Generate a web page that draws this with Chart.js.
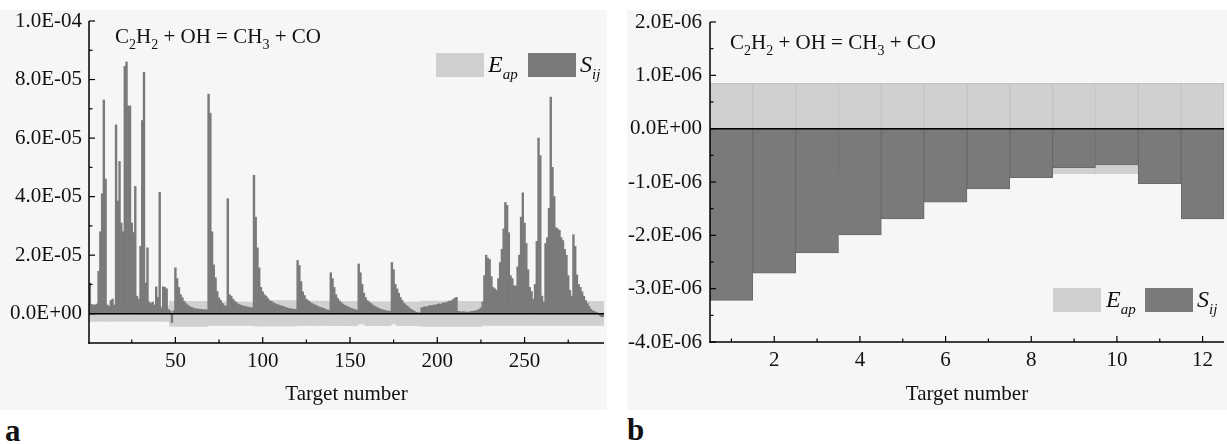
<!DOCTYPE html>
<html>
<head>
<meta charset="utf-8">
<script src="https://cdn.jsdelivr.net/npm/chart.js@4.4.1/dist/chart.umd.min.js"></script>
<style>
  body { margin: 0; background: #fff; }
  #wrap { position: relative; width: 1227px; height: 444px; overflow: hidden; font-family: "Liberation Serif", "Times New Roman", serif; color: #111; }
  .bg { position: absolute; background: #f6f6f6; }
  canvas { position: absolute; top: 0; }
  .txt { position: absolute; white-space: nowrap; line-height: 1; }
  .eq { font-size: 21px; }
  .eq sub { font-size: 14px; vertical-align: baseline; position: relative; top: 6px; }
  .key { position: absolute; width: 48px; height: 24px; }
  .lg { font-size: 24px; font-style: italic; }
  .lg sub { font-size: 15px; vertical-align: baseline; position: relative; top: 7px; }
  .panel { font-size: 31px; font-weight: bold; }
</style>
</head>
<body>
<div id="wrap">
  <div class="bg" style="left:0;top:10px;width:607px;height:400px"></div>
  <div class="bg" style="left:627px;top:10px;width:600px;height:400px"></div>
  <canvas id="chartA" style="left:0" width="615" height="410"></canvas>
  <canvas id="chartB" style="left:615px" width="612" height="410"></canvas>

  <div class="txt eq" style="left:115px;top:26px">C<sub>2</sub>H<sub>2</sub> + OH = CH<sub>3</sub> + CO</div>
  <div class="key" style="left:436px;top:53px;background:#d0d0d0"></div>
  <div class="txt lg" style="left:488px;top:52px">E<sub>ap</sub></div>
  <div class="key" style="left:528px;top:53px;background:#7a7a7a"></div>
  <div class="txt lg" style="left:580px;top:52px">S<sub>ij</sub></div>

  <div class="txt eq" style="left:730px;top:32px">C<sub>2</sub>H<sub>2</sub> + OH = CH<sub>3</sub> + CO</div>
  <div class="key" style="left:1053px;top:288px;background:#d0d0d0"></div>
  <div class="txt lg" style="left:1106px;top:287px">E<sub>ap</sub></div>
  <div class="key" style="left:1145px;top:288px;background:#7a7a7a"></div>
  <div class="txt lg" style="left:1197px;top:287px">S<sub>ij</sub></div>

  <div class="txt panel" style="left:5px;top:415px">a</div>
  <div class="txt panel" style="left:627px;top:414px">b</div>
</div>
<script>
const UNIT = 1e-6; // the series below are written in units of 1E-06

// panel a: targets 1..295
const sijA = [
  10.5, 3.2, 3.0, 3.0, 3.3, 14.5, 28, 41, 73, 46,
  3.0, 2.5, 4.5, 5.0, 3.0, 64.5, 38.5, 52, 31, 28,
  84.5, 86, 71, 71, 31, 27.7, 43.5, 6, 5, 23,
  66, 82.5, 10.5, 22.5, 4, 3.5, 4, 3, 9.2, 5.5,
  41.5, 2, 9.2, 9, 8.5, 1.5, 1, -3, 1, 15.7,
  12, 9, 6.5, 5.5, 4.3, 3.5, 3, 2.5, 2.2, 2,
  1.8, 1.7, 1.6, 1.5, 1.5, 1.4, 1.4, 1.3, 75, 68.5,
  28, 16.7, 12.3, 7.6, 5.4, 4.5, 3.5, 2.8, 2.5, 39.3,
  6.5, 6, 5, 4.3, 3.8, 3.3, 3, 2.8, 2.6, 2.5,
  2.3, 2.2, 2.1, 2, 47.3, 33, 22.5, 15.7, 9, 7.5,
  6.5, 6, 5.2, 4.5, 4.2, 3.8, 3.5, 3.2, 3, 2.8,
  2.6, 2.5, 2.2, 2, 1.8, 1.7, 1.6, 1.5, 1.5, 18.2,
  16.5, 11, 7.5, 6.2, 5, 4.5, 4, 3.6, 3.3, 3,
  2.7, 2.4, 2.2, 2, 1.8, 1.5, 1.3, 1.2, 14, 12,
  9, 6.5, 5.2, 4.4, 3.8, 3.3, 2.9, 2.6, 2.3, 2,
  1.8, 1.6, 1.4, 1.2, 17, 14, 10, 7, 5.5, 4.5,
  4, 3.5, 3, 2.6, 2.3, 2, 1.7, 1.5, 1.3, 1.1,
  1, 0.9, 0.8, 17.5, 15, 10, 8.5, 7, 5.5, 4.5,
  3.5, 3, 2.5, 2, 1.5, 1.2, 0.8, 0.5, 0.3, 0.3,
  2, 2.2, 2.4, 2.3, 2.6, 2.8, 2.7, 3, 2.9, 3.2,
  3.4, 3.2, 3.6, 3.8, 3.6, 4.1, 4.3, 4.4, 4.8, 5.3,
  5.6, 0.8, 0.7, 0.6, 0.7, 0.6, 0.5, 0.6, 0.7, 0.8,
  0.9, 1, 1.2, 1.5, 2, 4, 13, 20, 19, 18.5,
  12.7, 9, 8.5, 8, 12, 17.5, 22, 29, 38, 37,
  27.7, 13, 12, 9.5, 9.5, 16, 20, 33, 41.3, 31,
  24, 15, 9, 7.6, 5, 10, 24.7, 60, 54, 6,
  4, 24, 26, 36, 74, 50, 40, 29.4, 29, 28.5,
  26, 25, 22, 20, 13, 8, 6, 27, 23, 13.3,
  10, 9, 7.5, 6, 4.5, 3.5, 2.5, 1.5, 1, 0.8,
  0.5, 0.2, -0.5, -1, -1
];
const eapHighA = [
  2.7, 2.7, 2.7, 2.7, 2.7, 2.7, 2.7, 2.7, 2.7, 2.7,
  2.7, 2.7, 2.7, 2.7, 2.7, 2.7, 2.7, 2.7, 2.7, 2.7,
  2.7, 2.7, 2.7, 2.7, 2.7, 2.7, 2.7, 2.7, 2.7, 2.7,
  2.7, 2.7, 2.7, 2.7, 2.7, 2.7, 2.7, 2.7, 2.7, 2.7,
  2.7, 2.7, 2.7, 2.7, 2.7, 2.7, 4.2, 4.2, 4.2, 4.2,
  4.2, 4.2, 4.2, 4.2, 4.2, 4.2, 4.2, 4.2, 4.2, 4.2,
  4.2, 4.2, 4.2, 4.2, 4.2, 4.2, 4.2, 4.2, 4.0, 4.0,
  4.0, 4.0, 4.0, 4.0, 4.0, 4.0, 4.0, 4.0, 4.0, 4.0,
  4.0, 4.0, 4.0, 4.0, 4.0, 4.0, 4.0, 4.0, 4.0, 4.0,
  4.0, 4.0, 4.0, 4.0, 4.5, 4.5, 4.5, 4.5, 4.5, 4.5,
  4.5, 4.5, 4.5, 4.5, 4.5, 4.5, 4.5, 4.5, 4.5, 4.5,
  4.5, 4.5, 4.5, 4.5, 4.5, 4.5, 4.5, 4.5, 4.5, 4.3,
  4.3, 4.3, 4.3, 4.3, 4.3, 4.3, 4.3, 4.3, 4.3, 4.3,
  4.3, 4.3, 4.3, 4.3, 4.3, 4.3, 4.3, 4.3, 4.2, 4.2,
  4.2, 4.2, 4.2, 4.2, 4.2, 4.2, 4.2, 4.2, 4.2, 4.2,
  4.2, 4.2, 4.2, 4.2, 4.1, 4.1, 4.1, 4.1, 4.1, 4.1,
  4.1, 4.1, 4.1, 4.1, 4.1, 4.1, 4.1, 4.1, 4.1, 4.1,
  4.1, 4.1, 4.1, 4.0, 4.0, 4.0, 4.0, 4.0, 4.0, 4.0,
  4.0, 4.0, 4.0, 4.0, 4.0, 4.0, 4.0, 4.0, 4.0, 4.0,
  4.3, 4.3, 4.3, 4.3, 4.3, 4.3, 4.3, 4.3, 4.3, 4.3,
  4.3, 4.3, 4.3, 4.3, 4.3, 4.3, 4.3, 4.3, 4.3, 4.3,
  4.3, 4.2, 4.2, 4.2, 4.2, 4.2, 4.2, 4.2, 4.2, 4.2,
  4.2, 4.2, 4.2, 4.2, 4.2, 4.2, 4.2, 4.2, 4.2, 4.2,
  4.2, 4.2, 4.2, 4.2, 4.2, 4.2, 4.2, 4.2, 4.2, 4.2,
  4.2, 4.2, 4.2, 4.2, 4.2, 4.2, 4.2, 4.2, 4.2, 4.2,
  4.2, 4.2, 4.2, 4.2, 4.2, 4.2, 4.2, 4.2, 4.2, 4.2,
  4.2, 4.2, 4.2, 4.2, 4.2, 4.2, 4.2, 4.2, 4.2, 4.2,
  4.2, 4.2, 4.2, 4.2, 4.2, 4.2, 4.2, 4.2, 4.2, 4.2,
  4.2, 4.2, 4.2, 4.2, 4.2, 4.2, 4.2, 4.2, 4.2, 4.2,
  4.2, 4.2, 4.2, 4.2, 4.2
];
const eapLowA = [
  -2.6, -2.6, -2.6, -2.6, -2.6, -2.6, -2.6, -2.6, -2.6, -2.6,
  -2.6, -2.6, -2.6, -2.6, -2.6, -2.6, -2.6, -2.6, -2.6, -2.6,
  -2.6, -2.6, -2.6, -2.6, -2.6, -2.6, -2.6, -2.6, -2.6, -2.6,
  -2.6, -2.6, -2.6, -2.6, -2.6, -2.6, -2.6, -2.6, -2.6, -2.6,
  -2.6, -2.6, -2.6, -2.6, -2.6, -2.6, -4.3, -4.3, -4.3, -4.3,
  -4.3, -4.3, -4.3, -4.3, -4.3, -4.3, -4.3, -4.3, -4.3, -4.3,
  -4.3, -4.3, -4.3, -4.3, -4.3, -4.3, -4.3, -4.3, -4.0, -4.0,
  -4.0, -4.0, -4.0, -4.0, -4.0, -4.0, -4.0, -4.0, -4.0, -4.0,
  -4.0, -4.0, -4.0, -4.0, -4.0, -4.0, -4.0, -4.0, -4.0, -4.0,
  -4.0, -4.0, -4.0, -4.0, -4.2, -4.2, -4.2, -4.2, -4.2, -4.2,
  -4.2, -4.2, -4.2, -4.2, -4.2, -4.2, -4.2, -4.2, -4.2, -4.2,
  -4.2, -4.2, -4.2, -4.2, -4.2, -4.2, -4.2, -4.2, -4.2, -4.0,
  -4.0, -4.0, -4.0, -4.0, -4.0, -4.0, -4.0, -4.0, -4.0, -4.0,
  -4.0, -4.0, -4.0, -4.0, -4.0, -4.0, -4.0, -4.0, -4.1, -4.1,
  -4.1, -4.1, -4.1, -4.1, -4.1, -4.1, -4.1, -4.1, -4.1, -4.1,
  -4.1, -4.1, -4.1, -4.1, -3.5, -3.5, -3.5, -3.5, -4.1, -4.1,
  -4.1, -4.1, -4.1, -4.1, -4.1, -4.1, -4.1, -4.1, -4.1, -4.1,
  -4.1, -4.1, -4.1, -3.5, -3.5, -3.5, -4.1, -4.1, -4.1, -4.1,
  -4.1, -4.1, -4.1, -4.1, -4.1, -4.1, -4.1, -4.1, -4.1, -4.1,
  -4.3, -4.3, -4.3, -4.3, -4.3, -4.3, -4.3, -4.3, -4.3, -4.3,
  -4.3, -4.3, -4.3, -4.3, -4.3, -4.3, -4.3, -4.3, -4.3, -4.3,
  -4.3, -4.4, -4.4, -4.4, -4.4, -4.4, -4.4, -4.4, -4.4, -4.4,
  -4.4, -4.4, -4.4, -4.4, -4.4, -4.0, -4.0, -4.0, -4.0, -4.0,
  -4.0, -4.0, -4.0, -4.0, -4.0, -4.0, -4.0, -4.0, -4.0, -4.0,
  -4.0, -4.0, -4.0, -4.0, -4.0, -4.0, -4.0, -4.0, -4.0, -4.0,
  -4.0, -4.0, -4.0, -4.0, -4.0, -4.0, -4.0, -4.0, -4.0, -4.0,
  -4.0, -4.0, -4.0, -4.0, -4.0, -4.0, -4.0, -4.0, -4.0, -4.0,
  -4.0, -4.0, -4.0, -4.0, -4.0, -4.0, -4.0, -4.0, -4.0, -4.0,
  -4.0, -4.0, -4.0, -4.0, -4.0, -4.0, -4.0, -4.0, -4.0, -4.0,
  -4.0, -4.0, -4.0, -4.0, -4.0
];
const targetsA = sijA.map((v, k) => String(k + 1));
const xTicksA = [50, 100, 150, 200, 250];
const xMinorA = [25, 75, 125, 175, 225, 275];
const yTicksA = [0, 2e-5, 4e-5, 6e-5, 8e-5, 1e-4];
const yMinorA = [1e-5, 3e-5, 5e-5, 7e-5, 9e-5];

// panel b: targets 1..12
const targetsB = ['1', '2', '3', '4', '5', '6', '7', '8', '9', '10', '11', '12'];
const sijB = [-3.22, -2.71, -2.33, -1.99, -1.69, -1.38, -1.13, -0.92, -0.73, -0.68, -1.03, -1.69];
const eapHighB = [0.85, 0.85, 0.85, 0.85, 0.85, 0.85, 0.85, 0.85, 0.85, 0.85, 0.85, 0.85];
const eapLowB = [-0.85, -0.85, -0.85, -0.85, -0.85, -0.85, -0.85, -0.85, -0.85, -0.85, -0.85, -0.85];
const xTicksB = [2, 4, 6, 8, 10, 12];
const xMinorB = [1, 3, 5, 7, 9, 11];
const yTicksB = [-4e-6, -3e-6, -2e-6, -1e-6, 0, 1e-6, 2e-6];
const yMinorB = [-3.5e-6, -2.5e-6, -1.5e-6, -0.5e-6, 0.5e-6, 1.5e-6];

const DARK = '#7a7a7a';
const LIGHT = '#d0d0d0';
const FONT = { family: '"Liberation Serif", "Times New Roman", serif', size: 21 };
const INK = '#111';

// 8.0E-05 style labels
function fmtE(v) {
  const [m, e] = Number(v).toExponential(1).split('e');
  const n = parseInt(e, 10);
  return m + 'E' + (n < 0 ? '-' : '+') + String(Math.abs(n)).padStart(2, '0');
}

// axes, zero line and inward ticks, drawn over the bars
function frame(o) {
  return {
    id: 'frame',
    afterDatasetsDraw(chart) {
      const { ctx, chartArea: a, scales: { x, y } } = chart;
      const seg = (x1, y1, x2, y2) => { ctx.beginPath(); ctx.moveTo(x1, y1); ctx.lineTo(x2, y2); ctx.stroke(); };
      ctx.save();
      ctx.strokeStyle = '#000';
      ctx.lineWidth = 1.5;
      const y0 = y.getPixelForValue(0);
      seg(a.left, y0, a.right, y0);
      seg(a.left, a.top, a.left, a.bottom + 0.75);
      seg(a.left - 0.75, a.bottom, a.right, a.bottom);
      ctx.lineWidth = 1.2;
      o.xMajor.forEach(n => { const p = x.getPixelForValue(n - 1); seg(p, a.bottom, p, a.bottom - 6); });
      o.xMinor.forEach(n => { const p = x.getPixelForValue(n - 1); seg(p, a.bottom, p, a.bottom - 3.5); });
      o.yMajor.forEach(v => { const p = y.getPixelForValue(v); seg(a.left, p, a.left + 6, p); });
      o.yMinor.forEach(v => { const p = y.getPixelForValue(v); seg(a.left, p, a.left + 3.5, p); });
      ctx.restore();
    }
  };
}

function panel(id, labels, sij, lo, hi, o) {
  return new Chart(document.getElementById(id), {
    type: 'bar',
    data: {
      labels,
      datasets: [
        { label: 'Sij', data: sij.map(v => v * UNIT), backgroundColor: DARK,
          borderColor: '#6a6a6a', borderWidth: o.edge, order: 0 },
        { label: 'Eap', data: lo.map((v, k) => [v * UNIT, hi[k] * UNIT]), backgroundColor: LIGHT,
          borderColor: '#c4c4c4', borderWidth: o.edge, order: 1 }
      ]
    },
    options: {
      responsive: false,
      animation: false,
      datasets: { bar: { grouped: false, barPercentage: 1, categoryPercentage: 1 } },
      layout: { padding: { top: o.top, right: o.right, left: 0, bottom: 0 } },
      plugins: { legend: { display: false }, tooltip: { enabled: false } },
      scales: {
        x: {
          afterBuildTicks: s => { s.ticks = o.xMajor.map(n => ({ value: n - 1 })); },
          afterFit: s => { s.height = o.xh; },
          ticks: { autoSkip: false, maxRotation: 0, padding: 6, color: INK, font: FONT },
          grid: { display: false, drawTicks: false },
          border: { display: false },
          title: { display: true, text: 'Target number', color: INK, font: FONT, padding: { top: 0, bottom: 3 } }
        },
        y: {
          min: o.ymin,
          max: o.ymax,
          afterBuildTicks: s => { s.ticks = o.yMajor.map(v => ({ value: v })); },
          afterFit: s => { s.width = o.yw; },
          ticks: { padding: o.ypad, color: INK, font: FONT, callback: v => fmtE(v) },
          grid: { display: false, drawTicks: false },
          border: { display: false }
        }
      }
    },
    plugins: [frame(o)]
  });
}

panel('chartA', targetsA, sijA, eapLowA, eapHighA, {
  xMajor: xTicksA, xMinor: xMinorA, yMajor: yTicksA, yMinor: yMinorA,
  ymin: -1e-5, ymax: 1e-4, top: 21, right: 11, xh: 67, yw: 89, ypad: 7, edge: 0
});
panel('chartB', targetsB, sijB, eapLowB, eapHighB, {
  xMajor: xTicksB, xMinor: xMinorB, yMajor: yTicksB, yMinor: yMinorB,
  ymin: -4e-6, ymax: 2e-6, top: 22, right: 3, xh: 68, yw: 95, ypad: 8, edge: 1
});
</script>
</body>
</html>
